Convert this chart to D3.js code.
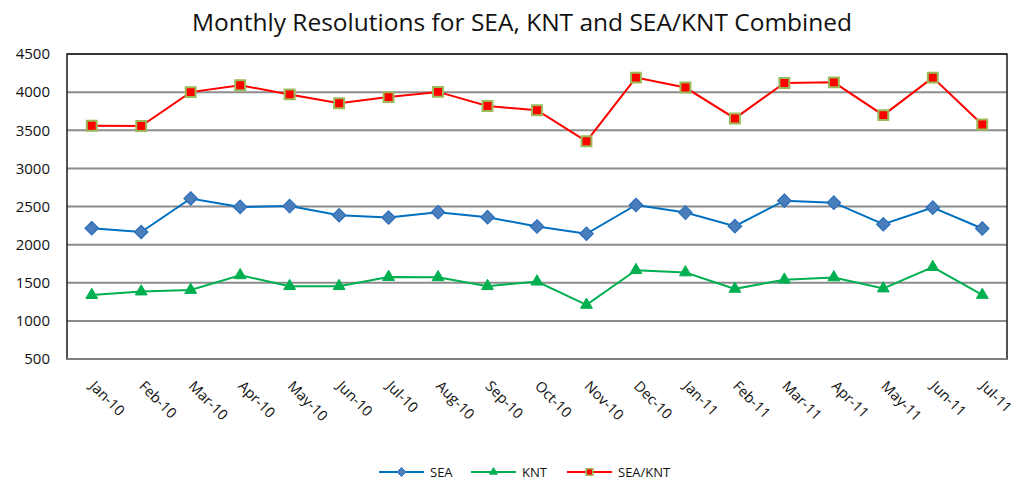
<!DOCTYPE html>
<html>
<head>
<meta charset="utf-8">
<script src="https://cdn.jsdelivr.net/npm/d3@7"></script>
<style>
  body { margin: 0; background: #fff; }
  svg { font-family: "Open Sans", sans-serif; }
</style>
</head>
<body>
<svg id="chart"></svg>
<script>
var months = ["Jan-10", "Feb-10", "Mar-10", "Apr-10", "May-10", "Jun-10", "Jul-10", "Aug-10", "Sep-10", "Oct-10",
  "Nov-10", "Dec-10", "Jan-11", "Feb-11", "Mar-11", "Apr-11", "May-11", "Jun-11", "Jul-11"];
var seaValues = [2215, 2165, 2605, 2495, 2505, 2385, 2355, 2425, 2360, 2238, 2142, 2520, 2420, 2242, 2576, 2550, 2267, 2485, 2212];
var kntValues = [1338, 1385, 1405, 1598, 1455, 1455, 1575, 1572, 1455, 1515, 1210, 1665, 1635, 1420, 1540, 1570, 1425, 1705, 1340];
var combinedValues = [3560, 3555, 4000, 4090, 3970, 3855, 3935, 4003, 3818, 3762, 3355, 4190, 4060, 3655, 4120, 4128, 3698, 4190, 3576];
var yTicks = [500, 1000, 1500, 2000, 2500, 3000, 3500, 4000, 4500];
var chartTitle = "Monthly Resolutions for SEA, KNT and SEA/KNT Combined";

var screen = { width: 1020, height: 483 };
var margins = { top: 54, bottom: 124, left: 67, right: 13 };
var graph = {
  width: screen.width - margins.left - margins.right,
  height: screen.height - margins.top - margins.bottom
};

var svg = d3.select("#chart").attr("width", screen.width).attr("height", screen.height);

var xScale = d3.scaleBand().domain(months).range([0, graph.width]);
var yScale = d3.scaleLinear().domain([500, 4500]).range([graph.height, 0]);

var g = svg.append("g").attr("transform", "translate(" + margins.left + "," + margins.top + ")");

// gridlines
g.selectAll(".grid")
  .data(yTicks)
  .enter()
  .append("line")
  .attr("x1", 0)
  .attr("x2", graph.width)
  .attr("y1", function (d) { return yScale(d); })
  .attr("y2", function (d) { return yScale(d); })
  .attr("stroke", "#8c8c8c")
  .attr("stroke-width", 2);

// plot border
g.append("rect")
  .attr("width", graph.width)
  .attr("height", graph.height)
  .attr("fill", "none")
  .attr("stroke", "#1a1a1a")
  .attr("stroke-width", 1.5);
g.append("line")
  .attr("x1", 0).attr("x2", graph.width)
  .attr("y1", graph.height).attr("y2", graph.height)
  .attr("stroke", "#7f7f7f").attr("stroke-width", 2);

// y axis
var yAxis = d3.axisLeft(yScale).tickValues(yTicks).tickFormat(d3.format("d")).tickSize(0).tickPadding(17);
var yg = g.append("g").call(yAxis);
yg.select(".domain").remove();
yg.selectAll("text").attr("font-size", 15).attr("fill", "#111").attr("font-family", "Open Sans");

// x axis labels
var xAxis = d3.axisBottom(xScale).tickSize(0);
var xg = g.append("g").attr("transform", "translate(0," + graph.height + ")").call(xAxis);
xg.select(".domain").remove();
xg.selectAll("text")
  .attr("font-size", 14.5)
  .attr("fill", "#111")
  .attr("font-family", "Open Sans")
  .attr("text-anchor", "start")
  .attr("dy", 0)
  .attr("y", 0)
  .attr("transform", "translate(-3,28) rotate(45)");

var cx = function (d, i) { return xScale(months[i]) + xScale.bandwidth() / 2; };

var series = [
  { name: "SEA", values: seaValues, line: "#0070C0", shape: d3.symbolDiamond2, size: 115, fill: "#4A7EBB", stroke: "#2A6EBB", sw: 1.2 },
  { name: "KNT", values: kntValues, line: "#00B050", shape: d3.symbolTriangle2, size: 100, fill: "#00B050", stroke: "#00B050", sw: 1 },
  { name: "SEA/KNT", values: combinedValues, line: "#FF0000", shape: d3.symbolSquare2, size: 125, fill: "#FF0000", stroke: "#9BBB59", sw: 2 }
];

var line = d3.line()
  .x(cx)
  .y(function (d) { return yScale(d); });

series.forEach(function (s) {
  g.append("path")
    .attr("d", line(s.values))
    .attr("fill", "none")
    .attr("stroke", s.line)
    .attr("stroke-width", 2);
  var sym = d3.symbol().type(s.shape).size(s.size);
  g.selectAll(".pt-" + s.name.replace("/", ""))
    .data(s.values)
    .enter()
    .append("path")
    .attr("d", sym)
    .attr("transform", function (d, i) { return "translate(" + cx(d, i) + "," + yScale(d) + ")"; })
    .attr("fill", s.fill)
    .attr("stroke", s.stroke)
    .attr("stroke-width", s.sw);
});

// title
svg.append("text")
  .text(chartTitle)
  .attr("x", 522)
  .attr("y", 31)
  .attr("text-anchor", "middle")
  .attr("font-size", 24.5)
  .attr("fill", "#111");

// legend
var legendX = [379, 471, 567];
var legend = svg.append("g").attr("transform", "translate(0,472)");
series.forEach(function (s, i) {
  var lg = legend.append("g").attr("transform", "translate(" + legendX[i] + ",0)");
  lg.append("line").attr("x1", 0).attr("x2", 45).attr("stroke", s.line).attr("stroke-width", 2);
  lg.append("path")
    .attr("d", d3.symbol().type(s.shape).size(s.size * 0.45))
    .attr("transform", "translate(22.5,0)")
    .attr("fill", s.fill)
    .attr("stroke", s.stroke)
    .attr("stroke-width", s.sw * 0.8);
  lg.append("text")
    .text(s.name)
    .attr("x", 51)
    .attr("y", 5)
    .attr("font-size", 13)
    .attr("fill", "#111");
});
</script>
</body>
</html>
